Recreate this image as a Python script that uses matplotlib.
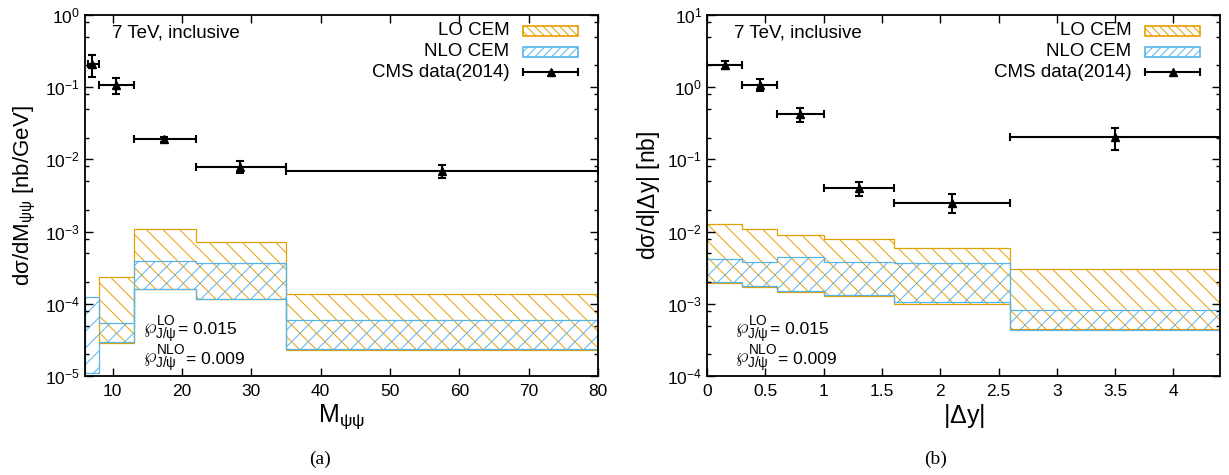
import numpy as np
import matplotlib
matplotlib.use('Agg')
import matplotlib.pyplot as plt
from matplotlib.patches import Rectangle
from matplotlib.ticker import LogLocator, NullFormatter

plt.rcParams['font.family'] = ['Liberation Sans', 'DejaVu Sans']
plt.rcParams['mathtext.fontset'] = 'custom'
plt.rcParams['mathtext.rm'] = 'Liberation Sans'
plt.rcParams['mathtext.it'] = 'Liberation Sans:italic'
plt.rcParams['mathtext.bf'] = 'Liberation Sans:bold'
plt.rcParams['hatch.linewidth'] = 0.7

LO_COLOR = '#e69f00'
NLO_COLOR = '#56b4e9'
LO_HATCH = '\\' * 2
NLO_HATCH = '/' * 2

# ---- panel (a): invariant mass ----
m_lo_edges = [8, 13, 22, 35, 80]
m_lo_low = [2.86e-5, 1.6e-4, 1.16e-4, 2.29e-5]
m_lo_high = [2.35e-4, 1.09e-3, 7.2e-4, 1.37e-4]

m_nlo_edges = [6, 8, 13, 22, 35, 80]
m_nlo_low = [1.1e-5, 2.95e-5, 1.6e-4, 1.16e-4, 2.35e-5]
m_nlo_high = [1.24e-4, 5.4e-5, 3.9e-4, 3.67e-4, 5.97e-5]

m_data_x = [7.0, 10.5, 17.4, 28.4, 57.5]
m_data_lo = [6.4, 8, 13, 22, 35]
m_data_hi = [8, 13, 22, 35, 80]
m_data_y = [0.21, 0.107, 0.0192, 0.00785, 0.0069]
m_data_ylo = [0.138, 0.081, 0.0173, 0.0065, 0.0055]
m_data_yhi = [0.28, 0.134, 0.0204, 0.0095, 0.0084]

# ---- panel (b): rapidity difference ----
y_edges = [0, 0.3, 0.6, 1.0, 1.6, 2.6, 4.5]
y_lo_low = [0.00194, 0.00171, 0.00146, 0.00129, 0.00099, 0.000448]
y_lo_high = [0.0127, 0.0109, 0.0090, 0.0079, 0.00593, 0.00303]
y_nlo_low = [0.00198, 0.00175, 0.0015, 0.00132, 0.00106, 0.00043]
y_nlo_high = [0.0042, 0.0038, 0.00445, 0.0038, 0.0037, 0.00082]

y_data_x = [0.155, 0.45, 0.80, 1.30, 2.10, 3.50]
y_data_lo = [0, 0.3, 0.6, 1.0, 1.6, 2.6]
y_data_hi = [0.3, 0.6, 1.0, 1.6, 2.6, 4.5]
y_data_y = [2.03, 1.07, 0.425, 0.040, 0.0249, 0.204]
y_data_ylo = [1.79, 0.886, 0.33, 0.0313, 0.0182, 0.134]
y_data_yhi = [2.31, 1.30, 0.52, 0.0487, 0.0331, 0.27]

fig = plt.figure(figsize=(12.29, 4.75), dpi=100)
ax1 = fig.add_axes([0.0692, 0.2084, 0.4174, 0.76])
ax2 = fig.add_axes([0.5753, 0.2084, 0.4174, 0.76])


def draw_band(ax, edges, low, high, color, hatch):
    ax.stairs(high, edges, baseline=low, fill=True, facecolor='none',
              edgecolor=color, hatch=hatch, lw=0.9)


def draw_data(ax, x, xlo, xhi, y, ylo, yhi):
    x = np.array(x); y = np.array(y)
    xerr = [x - np.array(xlo), np.array(xhi) - x]
    yerr = [y - np.array(ylo), np.array(yhi) - y]
    ax.errorbar(x, y, xerr=xerr, yerr=yerr, fmt='^', color='k', ms=5.5,
                elinewidth=1.5, capsize=3, capthick=1.5)


def legend(ax):
    rows = [0.956, 0.898, 0.842]
    bx0, bx1, bh = 0.854, 0.961, 0.028
    tx = 0.827
    for yy, lab in zip(rows, ['LO CEM', 'NLO CEM', 'CMS data(2014)']):
        ax.text(tx, yy, lab, transform=ax.transAxes, ha='right', va='center',
                fontsize=13.5)
    ax.add_patch(Rectangle((bx0, rows[0] - bh / 2), bx1 - bx0, bh,
                           transform=ax.transAxes, facecolor='none',
                           edgecolor=LO_COLOR, hatch='\\' * 4, lw=1.2))
    ax.add_patch(Rectangle((bx0, rows[1] - bh / 2), bx1 - bx0, bh,
                           transform=ax.transAxes, facecolor='none',
                           edgecolor=NLO_COLOR, hatch='/' * 4, lw=1.2))
    ax.plot([bx0, bx1], [rows[2]] * 2, color='k', lw=1.5, transform=ax.transAxes)
    ax.plot([bx0, bx1], [rows[2]] * 2, ls='none', marker='|', ms=6, mew=1.5,
            color='k', transform=ax.transAxes)
    ax.plot([(bx0 + bx1) / 2], [rows[2]], marker='^', ms=5.5, color='k',
            transform=ax.transAxes)


def style(ax):
    ax.set_yscale('log')
    ax.yaxis.set_minor_locator(LogLocator(base=10, subs=(2, 5, 8)))
    ax.yaxis.set_minor_formatter(NullFormatter())
    ax.tick_params(which='both', direction='in', top=True, right=True,
                   labelsize=12.5, width=1)
    ax.tick_params(which='major', length=6)
    ax.tick_params(which='minor', length=3)
    ax.tick_params(axis='x', pad=6)
    for s in ax.spines.values():
        s.set_linewidth(1.3)


def notes(ax, x0):
    ax.text(0.053, 0.95, '7 TeV, inclusive', transform=ax.transAxes,
            ha='left', va='center', fontsize=13.5)
    # (row y, order label, value text, x offset of value in points)
    rows = [(0.128, 'LO', '= 0.015', 25), (0.047, 'NLO', '= 0.009', 31)]
    for yy, order, val, dx in rows:
        ax.text(x0, yy, r'$\wp^{\mathrm{%s}}_{\mathrm{J/\psi}}$' % order,
                transform=ax.transAxes, ha='left', va='center', fontsize=14)
        ax.annotate(val, xy=(x0, yy), xycoords='axes fraction',
                    xytext=(dx, 0), textcoords='offset points',
                    ha='left', va='center', fontsize=12.5)


# panel (a)
draw_band(ax1, m_lo_edges, m_lo_low, m_lo_high, LO_COLOR, LO_HATCH)
draw_band(ax1, m_nlo_edges, m_nlo_low, m_nlo_high, NLO_COLOR, NLO_HATCH)
draw_data(ax1, m_data_x, m_data_lo, m_data_hi, m_data_y, m_data_ylo, m_data_yhi)
style(ax1)
ax1.set_xlim(6, 80)
ax1.set_ylim(1e-5, 1)
ax1.set_xticks([10, 20, 30, 40, 50, 60, 70, 80])
ax1.set_xlabel(r'M$_{\mathrm{\psi\psi}}$', fontsize=18, labelpad=2)
ax1.set_ylabel(r'd$\mathrm{\sigma}$/dM$_{\mathrm{\psi\psi}}$ [nb/GeV]',
               fontsize=16, labelpad=5)
legend(ax1)
notes(ax1, 0.113)

# panel (b)
draw_band(ax2, y_edges, y_lo_low, y_lo_high, LO_COLOR, LO_HATCH)
draw_band(ax2, y_edges, y_nlo_low, y_nlo_high, NLO_COLOR, NLO_HATCH)
draw_data(ax2, y_data_x, y_data_lo, y_data_hi, y_data_y, y_data_ylo, y_data_yhi)
style(ax2)
ax2.set_xlim(0, 4.4)
ax2.set_ylim(1e-4, 10)
ax2.set_xticks([0, 0.5, 1, 1.5, 2, 2.5, 3, 3.5, 4])
ax2.set_xticklabels(['0', '0.5', '1', '1.5', '2', '2.5', '3', '3.5', '4'])
ax2.set_xlabel(r'|$\Delta$y|', fontsize=18, labelpad=2)
ax2.set_ylabel(r'd$\mathrm{\sigma}$/d|$\Delta$y| [nb]', fontsize=16.5, labelpad=4)
legend(ax2)
notes(ax2, 0.055)

fig.text(0.26, 0.032, '(a)', family='Liberation Serif', fontsize=14,
         ha='center', va='center')
fig.text(0.761, 0.032, '(b)', family='Liberation Serif', fontsize=14,
         ha='center', va='center')

fig.savefig('out.png', dpi=100)
